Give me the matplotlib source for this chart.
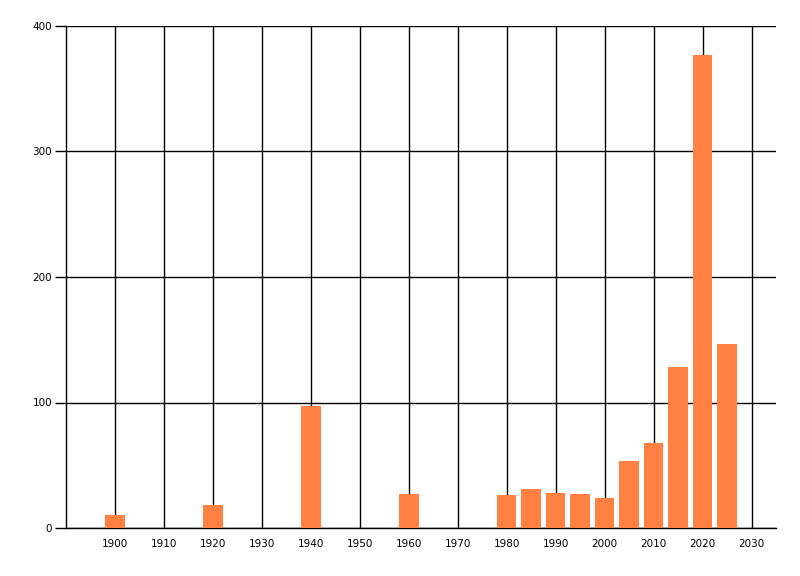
import matplotlib
matplotlib.use('Agg')
import matplotlib.pyplot as plt

# bar data
years = [1900, 1920, 1940, 1960, 1980, 1985, 1990, 1995, 2000, 2005, 2010, 2015, 2020, 2025]
counts = [10, 18, 97, 27, 26, 31, 28, 27, 24, 53, 68, 128, 377, 147]
x_ticks = list(range(1900, 2031, 10))
y_ticks = [0, 100, 200, 300, 400]

fig = plt.figure(figsize=(8, 5.76), dpi=100)
ax = fig.add_axes([66 / 800, 48 / 576, 710 / 800, 502 / 576])

ax.bar(years, counts, width=4, color='#FF8040', zorder=3)

ax.set_xlim(1890, 2035)
ax.set_ylim(0, 400)
ax.set_xticks(x_ticks)
ax.set_yticks(y_ticks)
ax.grid(True, color='black', linewidth=1, zorder=0)
ax.set_axisbelow(True)

for s in ['top', 'right']:
    ax.spines[s].set_visible(False)
ax.spines['left'].set_linewidth(1)
ax.spines['bottom'].set_linewidth(1)
ax.tick_params(axis='x', length=0, pad=8, labelsize=7.5)
ax.tick_params(axis='y', length=8, width=1, pad=2, labelsize=7.5)

fig.savefig('out.png', dpi=100)
